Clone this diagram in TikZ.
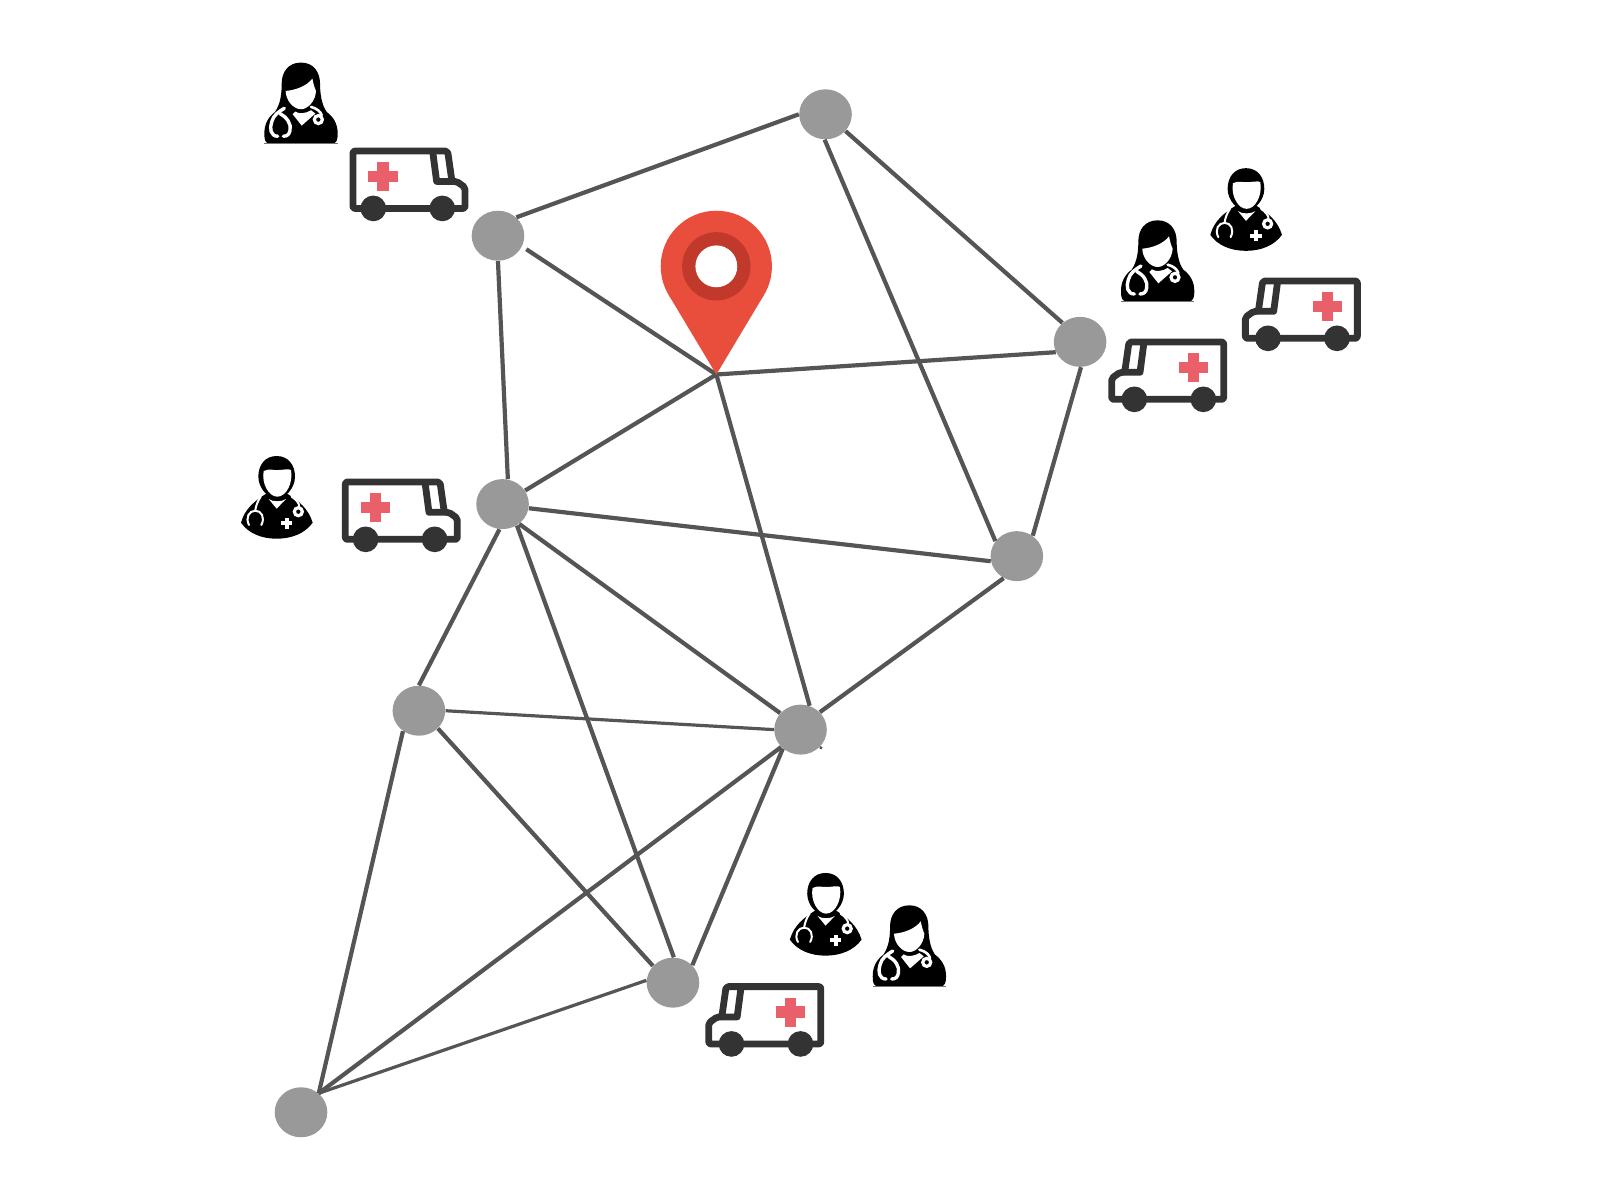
\documentclass[tikz,border=0pt]{standalone}
\usetikzlibrary{shapes.geometric}
\definecolor{edgecol}{HTML}{555555}
\definecolor{nodecol}{HTML}{999999}
\definecolor{ambcol}{HTML}{333333}
\definecolor{crosscol}{HTML}{E9606A}
\definecolor{pinred}{HTML}{E94E3D}
\definecolor{pindark}{HTML}{C0392B}
\tikzset{
  hub/.style={ellipse,fill=nodecol,draw=none,inner sep=0pt,minimum width=26.3pt,minimum height=25pt},
  link/.style={draw=edgecol,line width=2.1pt},
  thinlink/.style={draw=edgecol,line width=1.6pt},
  whiteline/.style={draw=white,line width=1.7pt,line cap=round},
  pics/ambulance/.style={code={
    \begin{scope}[shift={(-459,-380)}]
      \draw[ambcol,line width=3.4pt,line join=round,rounded corners=1pt]
        (369,303) -- (653,303) -- (666,394) -- (680,394) -- (705,412) -- (705,475) -- (369,475) -- cycle;
      \draw[ambcol,line width=3.4pt,line join=round] (608,303) -- (620,394) -- (672,394);
      \fill[ambcol] (430,475) circle (38.5);
      \fill[ambcol] (637,475) circle (38.5);
      \fill[crosscol] (415,362) rectangle (503,396);
      \fill[crosscol] (442,337) rectangle (476,423);
    \end{scope}
  }},
  pics/woman/.style={code={
    \begin{scope}[shift={(-213,-158.5)}]
      \fill[black] (213,37) .. controls (175,37) and (155,65) .. (155,100)
        .. controls (155,130) and (152,160) .. (135,185)
        .. controls (115,200) and (103,220) .. (103,250)
        .. controls (103,268) and (105,280) .. (120,280)
        -- (306,280) .. controls (320,280) and (323,268) .. (323,250)
        .. controls (323,220) and (310,200) .. (290,185)
        .. controls (275,165) and (270,130) .. (270,100)
        .. controls (270,65) and (250,37) .. (213,37) -- cycle;
      \fill[white] (167,122) .. controls (195,120) and (230,108) .. (247,85)
        .. controls (250,100) and (254,115) .. (258,122)
        .. controls (256,155) and (232,177) .. (213,177)
        .. controls (190,177) and (167,150) .. (167,122) -- cycle;
      \draw[draw=black!55,line width=.4pt] (103,280) -- (323,280);
      \fill[white] (188,192) -- (196,184) .. controls (205,192) and (228,190) .. (243,180) -- (256,190) -- (215,226) -- cycle;
      \draw[whiteline] (163,174) .. controls (145,185) and (130,195) .. (125,215)
        .. controls (118,235) and (122,258) .. (143,258);
      \draw[whiteline] (150,190) .. controls (170,200) and (185,222) .. (180,240)
        .. controls (178,252) and (172,258) .. (160,258);
      \draw[whiteline,line width=1.3pt] (243,170) .. controls (262,175) and (272,185) .. (275,195);
      \draw[white,line width=1.6pt] (265,208) circle (12);
    \end{scope}
  }},
  pics/man/.style={code={
    \begin{scope}[shift={(-170.5,-172)}]
      \fill[black] (170,48) .. controls (135,48) and (115,75) .. (115,110)
        .. controls (115,145) and (145,176) .. (170,176)
        .. controls (195,176) and (225,145) .. (225,110)
        .. controls (225,75) and (205,48) .. (170,48) -- cycle;
      \fill[black] (63,248) .. controls (75,205) and (105,182) .. (140,160)
        -- (200,160) .. controls (235,182) and (265,205) .. (278,248)
        .. controls (255,280) and (215,296) .. (170,296)
        .. controls (125,296) and (85,280) .. (63,248) -- cycle;
      \fill[white] (131,93) .. controls (150,84) and (160,92) .. (175,90)
        .. controls (190,90) and (205,85) .. (213,90)
        .. controls (220,130) and (198,170) .. (172,170)
        .. controls (146,170) and (124,130) .. (131,93) -- cycle;
      \fill[white] (146,177) .. controls (158,186) and (185,186) .. (198,177) -- (170,206) -- cycle;
      \draw[whiteline,line width=1pt] (122,170) .. controls (112,185) and (108,198) .. (106,210);
      \draw[whiteline,line width=1pt] (87,255) .. controls (75,232) and (88,212) .. (106,212)
        .. controls (124,212) and (136,232) .. (124,255);
      \draw[whiteline,line width=1pt] (215,170) .. controls (228,178) and (238,190) .. (238,200);
      \draw[white,line width=1.6pt] (235,215) circle (12);
      \fill[white] (183,244) rectangle (217,256);
      \fill[white] (194,233) rectangle (206,267);
    \end{scope}
  }}
}
\begin{document}
\begin{tikzpicture}[x=0.5102pt,y=-0.5102pt]
\useasboundingbox (0,0) rectangle (1568,1176);
% hubs
\node[hub] (A) at (809,112) {};
\node[hub] (B) at (488,231) {};
\node[hub] (C) at (1058.5,335) {};
\node[hub] (D) at (492.5,494) {};
\node[hub] (E) at (996.5,545) {};
\node[hub] (F) at (410.5,696.5) {};
\node[hub] (G) at (784.5,715) {};
\node[hub] (H) at (659.5,963) {};
\node[hub] (I) at (295,1090) {};
\coordinate (P) at (702,367);
\coordinate (stub) at (805.5,733.5);
% connectors
\draw[link] (A.180) -- (B.45);
\draw[link] (A.-40) -- (C.133);
\draw[link] (A.-92) -- (E.145);
\draw[link,shorten <=2.5pt] (B.-24) -- (P);
\draw[link] (B.-90) -- (D.78);
\draw[link] (P) -- (C.203.5);
\draw[link] (P) -- (D.31);
\draw[link] (P) -- (G.69);
\draw[link] (D.-9) -- (E.191);
\draw[link] (D.-97) -- (F.90);
\draw[link] (D.-50) -- (G.141);
\draw[link] (D.-56) -- (H.88);
\draw[link] (E.52) -- (C.-88);
\draw[link] (E.239) -- (G.42);
\draw[thinlink] (F.0) -- (G.180);
\draw[link] (F.-43) -- (H.140);
\draw[link] (F.232) -- (I.47);
\draw[link] (G.227) -- (H.42);
\draw[link] (G.222) -- (I.47);
\draw[thinlink] (H.175) -- (I.47);
\draw[edgecol,line width=1.2pt] (G.-42) -- (stub);
% pin
\fill[pinred] (702,261) circle (54.5);
\fill[pinred] (655.3,289) -- (748.7,289) -- (P) -- cycle;
\fill[pindark] (702,261) circle (33.5);
\fill[white] (702,261) circle (20.5);
% people
\pic[scale=.3267] at (295,101) {woman};
\pic[scale=.3267] at (1134.5,255.6) {woman};
\pic[scale=.3267] at (891.2,926.9) {woman};
\pic[scale=.3267] at (271.3,487.4) {man};
\pic[scale=.3267] at (1221.2,205.3) {man};
\pic[scale=.3267] at (809.2,896) {man};
% ambulances
\pic[scale=.3267] at (375.3,173.2) {ambulance};
\pic[scale=.3267] at (367.8,497.5) {ambulance};
\pic[xscale=-.3267,yscale=.3267] at (1169.8,360.3) {ambulance};
\pic[xscale=-.3267,yscale=.3267] at (1300.8,300.5) {ambulance};
\pic[xscale=-.3267,yscale=.3267] at (775,992) {ambulance};
\end{tikzpicture}
\end{document}
